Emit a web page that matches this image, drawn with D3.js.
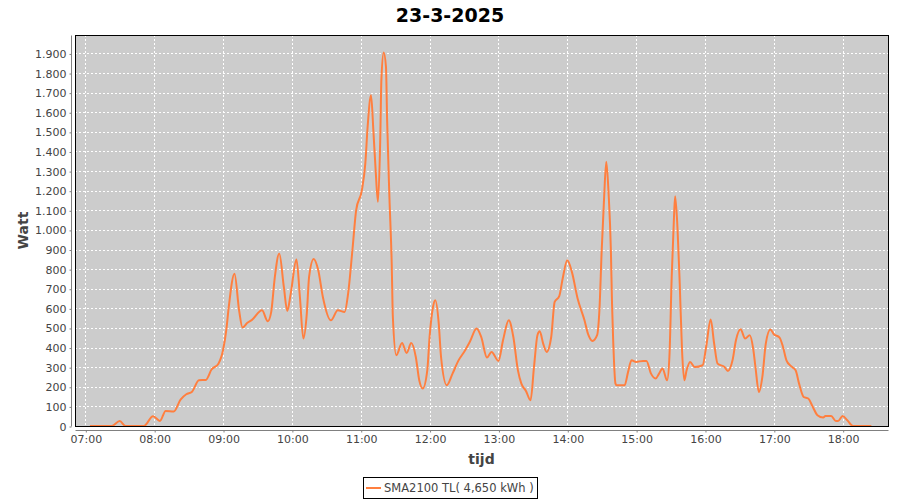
<!DOCTYPE html>
<html>
<head>
<meta charset="utf-8">
<script src="https://cdn.jsdelivr.net/npm/d3@7"></script>
<style>
  html, body { margin: 0; padding: 0; background: #fff; }
  svg { display: block; font-family: "DejaVu Sans", sans-serif; }
</style>
</head>
<body>
<svg id="chart" width="900" height="500"></svg>
<script>
// measurements of 23-3-2025 (time of day, watt)
const times = [
  "07:04", "07:23", "07:30", "07:35", "07:51", "07:59", "08:05", "08:10", "08:17", "08:23",
  "08:28", "08:33", "08:39", "08:45", "08:50", "08:56", "09:00", "09:03", "09:05", "09:10",
  "09:14", "09:17", "09:21", "09:25", "09:34", "09:39", "09:42", "09:45", "09:49", "09:53",
  "09:56", "09:59", "10:04", "10:07", "10:10", "10:13", "10:15", "10:19", "10:23", "10:27",
  "10:34", "10:40", "10:46", "10:49", "10:53", "10:56", "11:01", "11:04", "11:06", "11:09",
  "11:11", "11:13", "11:15", "11:17", "11:18", "11:20", "11:22", "11:23", "11:25", "11:27",
  "11:28", "11:31", "11:36", "11:40", "11:44", "11:48", "11:51", "11:54", "11:58", "12:00",
  "12:03", "12:05", "12:08", "12:10", "12:15", "12:20", "12:25", "12:31", "12:35", "12:41",
  "12:45", "12:50", "12:54", "13:00", "13:04", "13:09", "13:13", "13:17", "13:20", "13:24",
  "13:28", "13:31", "13:34", "13:36", "13:39", "13:42", "13:46", "13:49", "13:53", "13:56",
  "14:00", "14:04", "14:09", "14:15", "14:18", "14:22", "14:26", "14:28", "14:30", "14:32",
  "14:34", "14:36", "14:38", "14:39", "14:40", "14:42", "14:43", "14:50", "14:53", "14:56",
  "15:00", "15:06", "15:09", "15:13", "15:17", "15:20", "15:23", "15:27", "15:29", "15:31",
  "15:33", "15:34", "15:36", "15:38", "15:40", "15:42", "15:44", "15:47", "15:51", "15:58",
  "16:01", "16:05", "16:08", "16:11", "16:17", "16:20", "16:24", "16:27", "16:31", "16:35",
  "16:39", "16:42", "16:44", "16:47", "16:50", "16:53", "16:57", "17:00", "17:05", "17:08",
  "17:11", "17:15", "17:19", "17:22", "17:26", "17:30", "17:34", "17:38", "17:43", "17:45",
  "17:50", "17:54", "17:56", "18:00", "18:04", "18:09", "18:25"
];
const watts = [
  0, 0, 25, 0, 0, 50, 26, 77, 74, 135,
  162, 175, 233, 235, 288, 318, 386, 497, 607, 777,
  590, 502, 525, 540, 590, 534, 582, 752, 880, 709,
  587, 675, 849, 658, 446, 573, 760, 852, 794, 658,
  539, 590, 582, 675, 913, 1100, 1203, 1339, 1525, 1687,
  1509, 1305, 1143, 1458, 1764, 1905, 1832, 1560, 1168, 829,
  556, 361, 423, 372, 423, 352, 233, 191, 284, 454,
  607, 641, 522, 352, 208, 267, 332, 386, 428, 497,
  454, 349, 378, 332, 437, 539, 454, 284, 216, 179,
  131, 301, 463, 483, 420, 378, 454, 633, 662, 752,
  845, 786, 650, 539, 471, 434, 463, 590, 896, 1152,
  1347, 1186, 896, 624, 437, 216, 208, 208, 276, 335,
  327, 332, 332, 267, 242, 267, 293, 233, 352, 760,
  1066, 1172, 1015, 727, 386, 233, 284, 327, 301, 310,
  403, 543, 420, 318, 301, 281, 335, 437, 493, 446,
  463, 395, 300, 173, 250, 420, 492, 468, 451, 403,
  335, 305, 284, 216, 148, 140, 97, 55, 43, 51,
  51, 26, 26, 51, 29, 0, 0
];
const yTicks = d3.range(0, 2000, 100);
const title = "23-3-2025";
const seriesName = "SMA2100 TL( 4,650 kWh )";

const width = 900;
const height = 500;
const plot = { left: 75, right: 888, top: 35, bottom: 426 };

const svg = d3.select("#chart");
const day = "2025-03-23T";
const parse = d3.timeParse("%Y-%m-%dT%H:%M");
const data = times.map((t, i) => ({ t: parse(day + t), w: watts[i] }));

const x = d3
  .scaleTime()
  .domain([parse(day + "06:51"), new Date(parse(day + "18:39").getTime() + 30000)])
  .range([plot.left, plot.right]);
const y = d3.scaleLinear().domain([0, 1994]).range([plot.bottom, plot.top]);

// dutch number format: 1.900
const nl = d3.formatLocale({ decimal: ",", thousands: ".", grouping: [3], currency: ["€", ""] });
const fmt = nl.format(",d");

// title
svg.append("text")
  .attr("x", width / 2)
  .attr("y", 22)
  .attr("text-anchor", "middle")
  .attr("font-size", 19)
  .attr("font-weight", "bold")
  .attr("fill", "#000")
  .text(title);

// plot background
svg.append("rect")
  .attr("x", plot.left + 0.5)
  .attr("y", plot.top + 0.5)
  .attr("width", plot.right - plot.left)
  .attr("height", plot.bottom - plot.top)
  .attr("fill", "#cccccc");

// gridlines
const hours = x.ticks(d3.timeHour.every(1));
svg.append("g")
  .attr("stroke", "#fff")
  .attr("stroke-dasharray", "2,2")
  .selectAll("line")
  .data(hours)
  .join("line")
  .attr("x1", (d) => Math.round(x(d)) + 0.5)
  .attr("x2", (d) => Math.round(x(d)) + 0.5)
  .attr("y1", plot.top)
  .attr("y2", plot.bottom);
svg.append("g")
  .attr("stroke", "#fff")
  .attr("stroke-dasharray", "2,2")
  .selectAll("line")
  .data(yTicks.filter((d) => d > 0))
  .join("line")
  .attr("x1", plot.left)
  .attr("x2", plot.right)
  .attr("y1", (d) => Math.round(y(d)) + 0.5)
  .attr("y2", (d) => Math.round(y(d)) + 0.5);

// the series line
const line = d3
  .line()
  .curve(d3.curveMonotoneX)
  .x((d) => x(d.t))
  .y((d) => y(d.w));
svg.append("path")
  .datum(data)
  .attr("fill", "none")
  .attr("stroke", "#ff7f3f")
  .attr("stroke-width", 2)
  .attr("stroke-linejoin", "round")
  .attr("d", line);

// plot outline
svg.append("rect")
  .attr("x", plot.left + 0.5)
  .attr("y", plot.top + 0.5)
  .attr("width", plot.right - plot.left)
  .attr("height", plot.bottom - plot.top)
  .attr("fill", "none")
  .attr("stroke", "#000");

// y-axis, offset 4px from the plot
const yAxis = svg.append("g")
  .attr("transform", `translate(${plot.left - 4 + 0.5},0.5)`)
  .call(d3.axisLeft(y).tickValues(yTicks).tickFormat(fmt).tickSize(2).tickSizeOuter(0));
yAxis.select(".domain").attr("stroke", "#808080").attr("d", `M0,${plot.top}V${plot.bottom}`);
yAxis.selectAll(".tick line").attr("stroke", "#808080");
yAxis.selectAll(".tick text")
  .attr("fill", "#444")
  .attr("font-size", 11)
  .attr("font-family", "DejaVu Sans")
  .attr("x", -5);

svg.append("text")
  .attr("transform", `translate(28,${(plot.top + plot.bottom) / 2}) rotate(-90)`)
  .attr("text-anchor", "middle")
  .attr("font-size", 14)
  .attr("font-weight", "bold")
  .attr("fill", "#444")
  .text("Watt");

// x-axis
const xAxis = svg.append("g")
  .attr("transform", `translate(0.5,${plot.bottom + 4 + 0.5})`)
  .call(d3.axisBottom(x).ticks(d3.timeHour.every(1)).tickFormat(d3.timeFormat("%H:%M")).tickSize(2).tickSizeOuter(0));
xAxis.select(".domain").attr("stroke", "#808080").attr("d", `M${plot.left},0H${plot.right}`);
xAxis.selectAll(".tick line").attr("stroke", "#808080");
xAxis.selectAll(".tick text")
  .attr("fill", "#444")
  .attr("font-size", 11)
  .attr("font-family", "DejaVu Sans")
  .attr("y", 5);

svg.append("text")
  .attr("x", (plot.left + plot.right) / 2)
  .attr("y", 464)
  .attr("text-anchor", "middle")
  .attr("font-size", 14)
  .attr("font-weight", "bold")
  .attr("fill", "#444")
  .text("tijd");

// legend
const legend = svg.append("g");
legend.append("rect")
  .attr("x", 363.5)
  .attr("y", 477.5)
  .attr("width", 174)
  .attr("height", 21)
  .attr("fill", "#fff")
  .attr("stroke", "#000");
legend.append("line")
  .attr("x1", 366)
  .attr("x2", 381)
  .attr("y1", 488)
  .attr("y2", 488)
  .attr("stroke", "#ff7f3f")
  .attr("stroke-width", 2);
legend.append("text")
  .attr("x", 384)
  .attr("y", 492)
  .attr("font-size", 11.5)
  .attr("fill", "#444")
  .text(seriesName);
</script>
</body>
</html>
